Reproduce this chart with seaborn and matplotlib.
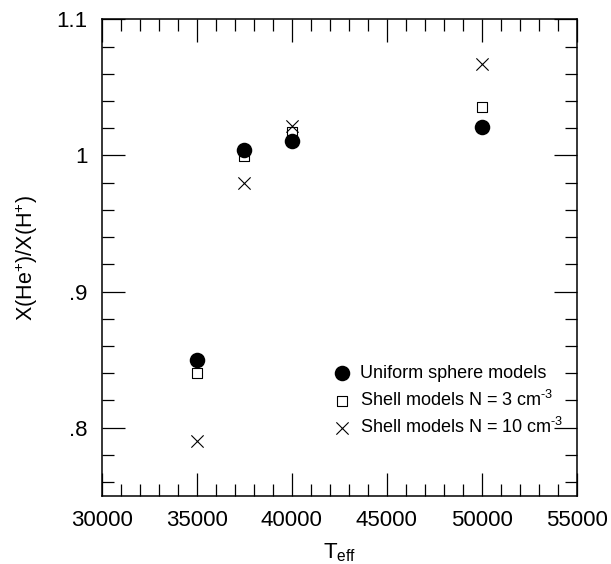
import numpy as np
import pandas as pd
import matplotlib
matplotlib.use("Agg")
import matplotlib.pyplot as plt
from matplotlib.ticker import MultipleLocator, FixedLocator, FixedFormatter
import seaborn as sns

teff = [35000, 37500, 40000, 50000]
uniform = [0.850, 1.004, 1.0105, 1.021]
shell3 = [0.840, 0.9995, 1.017, 1.0353]
shell10 = [0.790, 0.980, 1.0215, 1.067]
series_names = ["Uniform sphere models",
                "Shell models N = 3 cm$^{\\text{-3}}$",
                "Shell models N = 10 cm$^{\\text{-3}}$"]
ytick_vals = [0.8, 0.9, 1.0, 1.1]
ytick_labels = [".8", ".9", "1", "1.1"]
xtick_vals = [30000, 35000, 40000, 45000, 50000, 55000]

df = pd.DataFrame({
    "Teff": teff * 3,
    "ratio": uniform + shell3 + shell10,
    "model": [series_names[0]] * 4 + [series_names[1]] * 4 + [series_names[2]] * 4,
})

sns.set_style("ticks")
plt.rcParams["font.family"] = ["Liberation Sans", "DejaVu Sans"]
plt.rcParams["mathtext.fontset"] = "custom"
plt.rcParams["mathtext.rm"] = "Liberation Sans"
plt.rcParams["mathtext.it"] = "Liberation Sans"
plt.rcParams["mathtext.default"] = "rm"

W, H = 611, 564
fig = plt.figure(figsize=(W / 100, H / 100), dpi=100)
L, R, T, B = 101.7, 577.0, 19.3, 495.7
ax = fig.add_axes([L / W, 1 - B / H, (R - L) / W, (B - T) / H])

sns.scatterplot(data=df[df.model == series_names[0]], x="Teff", y="ratio", ax=ax,
                marker="o", s=125, color="black", edgecolor="black", linewidth=0,
                label=series_names[0], zorder=3)
sns.scatterplot(data=df[df.model == series_names[1]], x="Teff", y="ratio", ax=ax,
                marker="s", s=62, facecolor="white", edgecolor="black", linewidth=0.8,
                label=series_names[1], zorder=2)
sns.scatterplot(data=df[df.model == series_names[2]], x="Teff", y="ratio", ax=ax,
                marker="x", s=78, color="black", linewidth=0.8,
                label=series_names[2], zorder=4)

ax.set_xlim(30000, 55000)
ax.set_ylim(0.75, 1.1)
ax.xaxis.set_major_locator(FixedLocator(xtick_vals))
ax.xaxis.set_minor_locator(MultipleLocator(1000))
ax.yaxis.set_major_locator(FixedLocator(ytick_vals))
ax.yaxis.set_major_formatter(FixedFormatter(ytick_labels))
ax.yaxis.set_minor_locator(MultipleLocator(0.02))

ax.tick_params(which="both", direction="in", top=True, right=True, width=0.9, color="black")
ax.tick_params(which="major", length=16.5, labelsize=16, labelcolor="black")
ax.tick_params(which="minor", length=8.5)
ax.tick_params(axis="x", which="major", pad=10)
ax.tick_params(axis="y", which="major", pad=10)
for sp in ax.spines.values():
    sp.set_linewidth(1.1)
    sp.set_color("black")

ax.set_xlabel("T$_{\\rm eff}$", fontsize=16, labelpad=8, color="black")
ax.set_ylabel("X(He$^{+}$)/X(H$^{+}$)", fontsize=15.5, labelpad=12, color="black")

fs = 13
fs_px = fs * 100 / 72
hl, htp = 1.2, 0.41
x_left = (341.7 - hl / 2 * fs_px) / W
y_mid = 1 - 401.0 / H
leg = ax.legend(loc="center left", bbox_to_anchor=(x_left, y_mid),
                bbox_transform=fig.transFigure, frameon=False,
                fontsize=fs, handletextpad=htp, labelspacing=0.42, borderaxespad=0,
                borderpad=0, handlelength=hl)
for t in leg.get_texts():
    t.set_color("black")
fig.savefig("out.png", dpi=100)
